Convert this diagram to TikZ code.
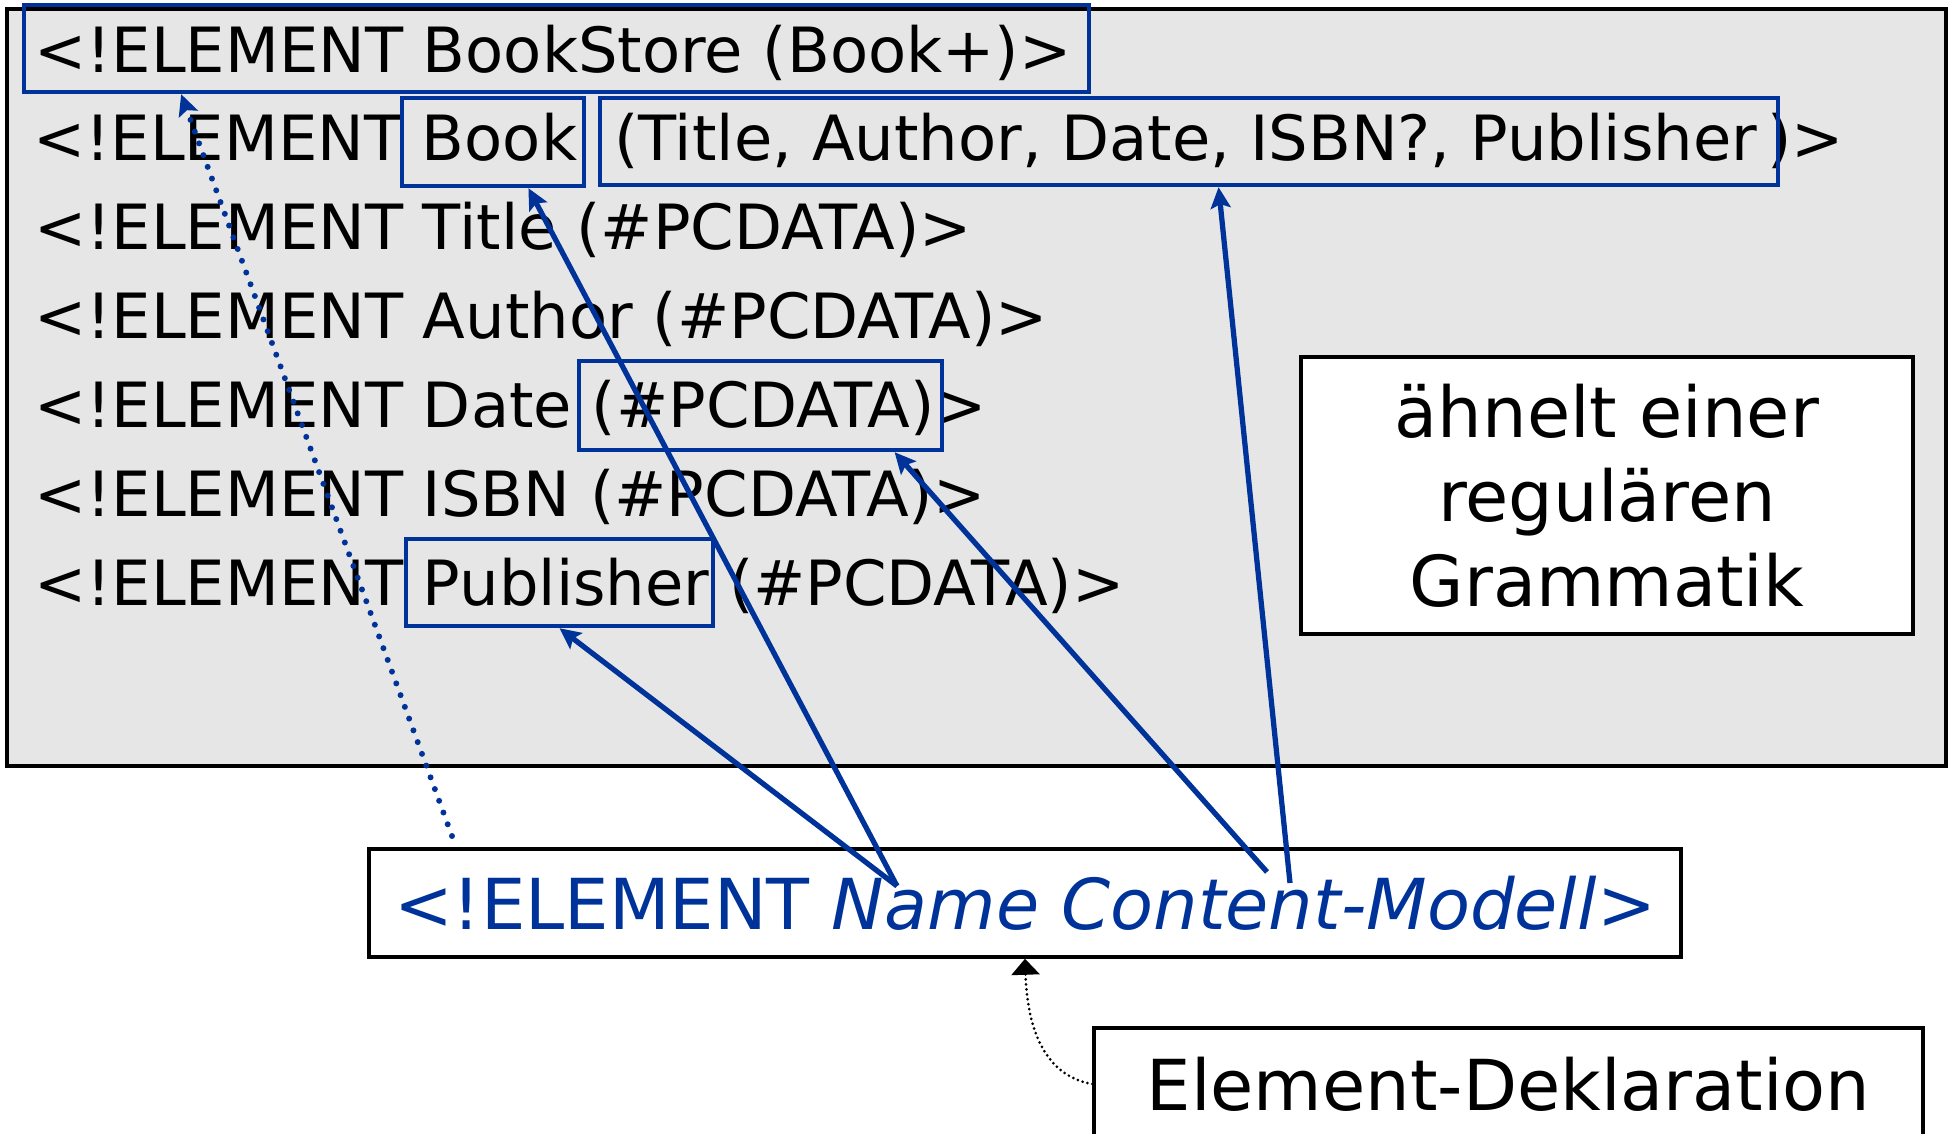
\documentclass[tikz,border=0pt]{standalone}
\usepackage{fontspec}
\setmainfont{DejaVu Sans}
\usetikzlibrary{arrows.meta,fit,calc}
\definecolor{dtdblue}{RGB}{0,51,153}
\definecolor{dtdgray}{RGB}{230,230,230}

\begin{document}
\begin{tikzpicture}[x=0.02cm,y=-0.02cm,
  code/.style={anchor=base west,inner sep=0pt,font=\fontsize{35.5pt}{42pt}\selectfont},
  wordbox/.style={draw=dtdblue,line width=2.5pt,inner sep=0pt},
  plainbox/.style={draw=black,line width=2pt,fill=white,inner sep=0pt,font=\fontsize{40pt}{48pt}\selectfont},
  link/.style={dtdblue,line width=3pt,-{Stealth[length=0.42cm,width=0.4cm,inset=0.08cm]}}]
\useasboundingbox (0,0) rectangle (1948,1133);

% DTD panel
\node[fill=dtdgray,draw=black,line width=2pt,inner sep=0pt,fit={(7,9) (1946,766)}] (dtd) {};

% lines of the DTD
\node[code] (l1) at (34,72) {<!ELEMENT BookStore (Book+)>};
\node[code] (l2) at (33,160.5) {<!ELEMENT Book};
\node[code] (l2b) at (614,160.5) {(Title, Author, Date, ISBN?, Publisher\,)>};
\node[code] (l3) at (34,249) {<!ELEMENT Title (\#PCDATA)>};
\node[code] (l4) at (34,338) {<!ELEMENT Author (\#PCDATA)>};
\node[code] (l5) at (34,427) {<!ELEMENT Date (\#PCDATA)>};
\node[code] (l6) at (34,516) {<!ELEMENT ISBN (\#PCDATA)>};
\node[code] (l7) at (34,605) {<!ELEMENT Publisher (\#PCDATA)>};

% marked parts
\node[wordbox,fit={(24,5) (1089,92)}] (storebox) {};
\node[wordbox,fit={(402,98) (584,186)}] (bookbox) {};
\node[wordbox,fit={(600,98) (1778,185)}] (modelbox) {};
\node[wordbox,fit={(579,361) (942,450)}] (datebox) {};
\node[wordbox,fit={(406,539) (713,626)}] (pubbox) {};

% note
\node[plainbox,minimum width=12.24cm,minimum height=5.54cm,align=center] (regular) at (1607,495.5) {ähnelt einer\\regulären\\Grammatik};

% declaration pattern and its label
\node[plainbox,text=dtdblue,minimum width=26.24cm,minimum height=2.16cm] (decl) at (1025,903) {<!ELEMENT \textit{Name Content-Modell>}};
\node[plainbox,minimum width=16.58cm,minimum height=2.24cm] (label) at (1508.5,1084) {Element-Deklaration};

% arrows
\coordinate (nm) at (897,886);
\coordinate (cm1) at (1267,872);
\coordinate (cm2) at (1290,883);
\coordinate (el) at (452,836);
\draw[link] (nm) -- (pubbox.south);
\draw[link] (nm) -- ($(bookbox.south west)!.69!(bookbox.south east)$);
\draw[link] (cm1) -- ($(datebox.south west)!.865!(datebox.south east)$);
\draw[link] (cm2) -- ($(modelbox.south west)!.525!(modelbox.south east)$);
\draw[link,line width=3.4pt,dash pattern=on 0pt off 0.25cm,line cap=round] (el) -- ($(storebox.south west)!.149!(storebox.south east)$);
\draw[line width=1.7pt,dash pattern=on 0pt off 0.1cm,line cap=round,-{Triangle[length=0.32cm,width=0.56cm]}] (label.west) .. controls (1040,1075) and (1027,1020) .. (decl.south);
\end{tikzpicture}
\end{document}
